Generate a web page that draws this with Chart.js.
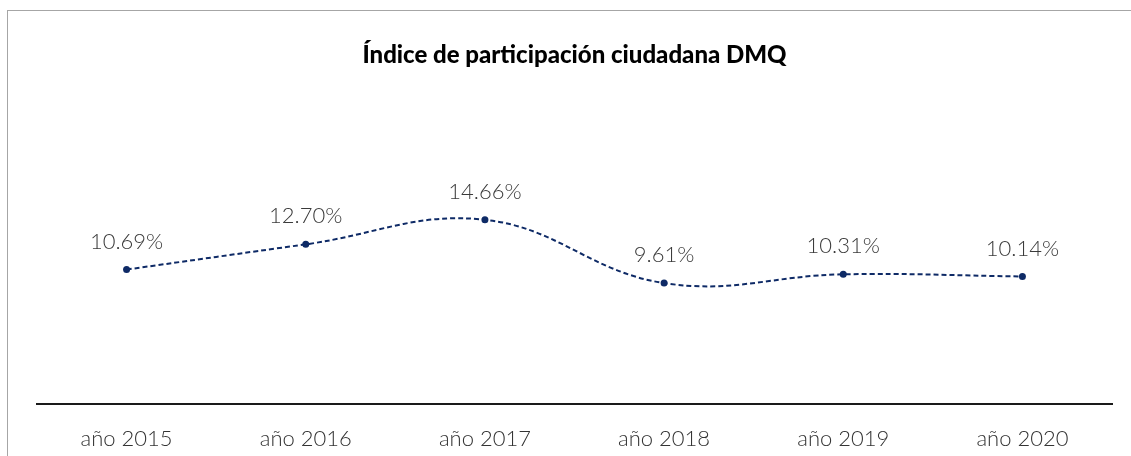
<!DOCTYPE html>
<html>
<head>
    <title>Índice de participación ciudadana DMQ</title>
    <script src="https://cdn.jsdelivr.net/npm/chart.js@4.4.0/dist/chart.umd.min.js"></script>
    <style>
        html, body { margin: 0; padding: 0; background: #fff; overflow: hidden; }
        #frame {
            position: absolute; left: 7px; top: 10px;
            width: 1200px; height: 500px;
            border: 1px solid #a6a6a6;
        }
        #chart { position: absolute; left: 0; top: 0; }
    </style>
</head>
<body>
    <div id="frame"></div>
    <canvas id="chart" width="1131" height="482"></canvas>
    <script>
        const years = ['año 2015', 'año 2016', 'año 2017', 'año 2018', 'año 2019', 'año 2020'];
        const participation = [10.69, 12.70, 14.66, 9.61, 10.31, 10.14];
        const FONT = 'Lato, "Open Sans", sans-serif';

        // draws the value labels above each point
        const valueLabels = {
            id: 'valueLabels',
            afterDatasetsDraw(chart) {
                const ctx = chart.ctx;
                const meta = chart.getDatasetMeta(0);
                ctx.save();
                ctx.font = `300 22px ${FONT}`;
                ctx.fillStyle = '#3a3a3a';
                ctx.textAlign = 'center';
                ctx.textBaseline = 'middle';
                meta.data.forEach((pt, i) => {
                    ctx.fillText(participation[i].toFixed(2) + '%', pt.x, pt.y - 28);
                });
                ctx.restore();
            }
        };

        new Chart(document.getElementById('chart'), {
            type: 'line',
            data: {
                labels: years,
                datasets: [{
                    data: participation,
                    borderColor: '#0e2a66',
                    backgroundColor: '#0e2a66',
                    borderWidth: 2,
                    borderDash: [5, 3],
                    tension: 0.4,
                    pointRadius: 3.5,
                    pointBorderWidth: 0,
                    fill: false
                }]
            },
            options: {
                responsive: false,
                animation: false,
                layout: { padding: { left: 37, right: 19, top: 0, bottom: 8 } },
                plugins: {
                    legend: { display: false },
                    tooltip: { enabled: false },
                    title: {
                        display: true,
                        text: 'Índice de participación ciudadana DMQ',
                        color: '#000',
                        font: { family: FONT, size: 24, weight: 900 },
                        padding: { top: 41, bottom: 83 }
                    }
                },
                scales: {
                    x: {
                        offset: true,
                        grid: { display: false, drawTicks: false },
                        border: { display: true, color: '#1a1a1a', width: 2 },
                        ticks: {
                            color: '#333',
                            padding: 22,
                            font: { family: FONT, size: 22, weight: 300 }
                        }
                    },
                    y: {
                        display: false,
                        min: 0,
                        max: 20
                    }
                }
            },
            plugins: [valueLabels]
        });
    </script>
</body>
</html>
